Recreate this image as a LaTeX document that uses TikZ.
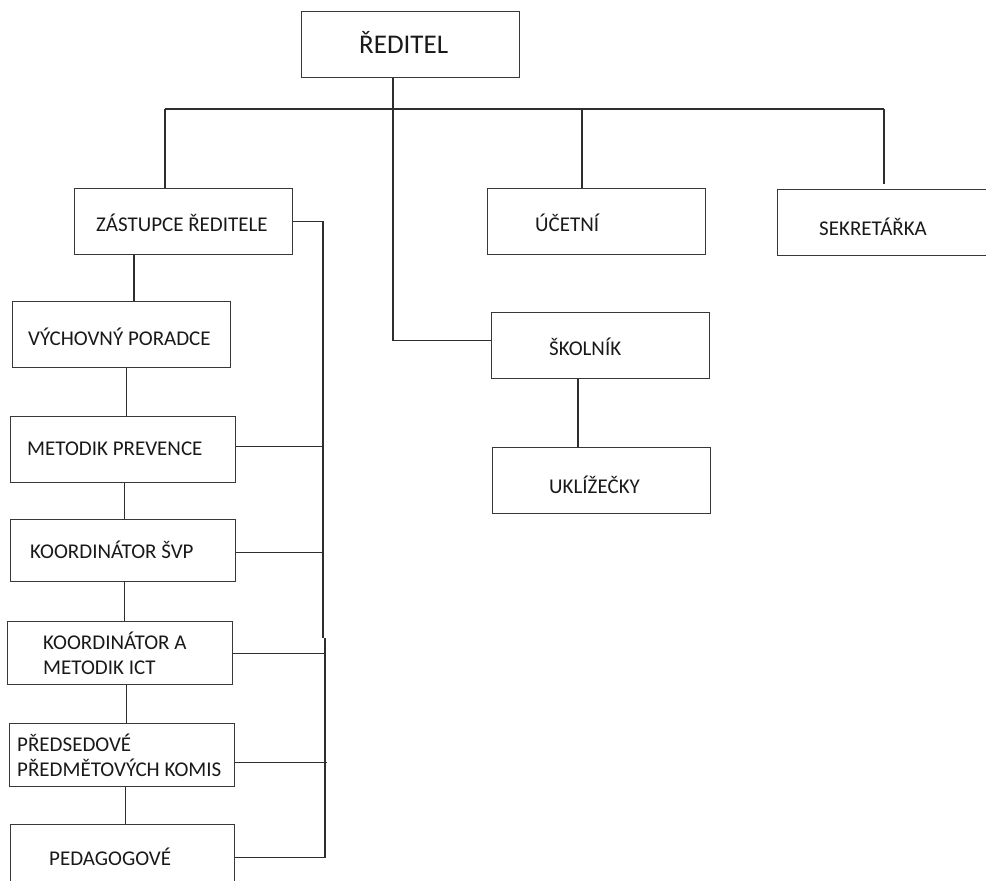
\documentclass[tikz,border=0pt]{standalone}
\usepackage{fontspec}
\setmainfont{Carlito}
\begin{document}
\begin{tikzpicture}[x=1pt,y=-1pt,
  box/.style={draw=black!78,line width=1.1pt,rectangle,inner sep=0pt,anchor=north west},
  conn/.style={draw=black!82,line width=1.1pt},
  lbl/.style={anchor=base west,inner sep=0pt,text=black!90,font=\fontsize{21}{25}\selectfont},
  big/.style={lbl,font=\fontsize{27}{31}\selectfont}]
\useasboundingbox (0,0) rectangle (986,881);
\clip (0,0) rectangle (986,881);
% boxes
\node[box,minimum width=218pt,minimum height=66pt] (red) at (301,11) {};
\node[box,minimum width=218pt,minimum height=66pt] (zast) at (74,188) {};
\node[box,minimum width=218pt,minimum height=66pt] (ucet) at (487,188) {};
\node[box,minimum width=215pt,minimum height=66pt] (sekr) at (777,189) {};
\node[box,minimum width=218pt,minimum height=66pt] (skol) at (491,312) {};
\node[box,minimum width=218pt,minimum height=66pt] (ukl) at (492,447) {};
\node[box,minimum width=218pt,minimum height=66pt] (vych) at (12,301) {};
\node[box,minimum width=225pt,minimum height=66pt] (meto) at (10,416) {};
\node[box,minimum width=225pt,minimum height=62pt] (svp) at (10,519) {};
\node[box,minimum width=225pt,minimum height=63pt] (ict) at (7,621) {};
\node[box,minimum width=225pt,minimum height=63pt] (pred) at (9,723) {};
\node[box,minimum width=224pt,minimum height=66pt] (peda) at (10,824) {};
% labels
\node[big] (t-red) at (359,53) {ŘEDITEL};
\node[lbl] (t-zast) at (96,231) {ZÁSTUPCE ŘEDITELE};
\node[lbl] (t-ucet) at (535,231) {ÚČETNÍ};
\node[lbl] (t-sekr) at (819,235) {SEKRETÁŘKA};
\node[lbl] (t-skol) at (549,355) {ŠKOLNÍK};
\node[lbl] (t-ukl) at (549,493) {UKLÍŽEČKY};
\node[lbl] (t-vych) at (28,345) {VÝCHOVNÝ PORADCE};
\node[lbl] (t-meto) at (27,455) {METODIK PREVENCE};
\node[lbl] (t-svp) at (30,558) {KOORDINÁTOR ŠVP};
\node[lbl] (t-ict1) at (43,649) {KOORDINÁTOR A};
\node[lbl] (t-ict2) at (43,674) {METODIK ICT};
\node[lbl] (t-pred1) at (17,751) {PŘEDSEDOVÉ};
\node[lbl] (t-pred2) at (17,776) {PŘEDMĚTOVÝCH KOMIS};
\node[lbl] (t-peda) at (49,865) {PEDAGOGOVÉ};
% bus coordinates
\coordinate (bL) at (165,109);
\coordinate (bR) at (884,109);
\coordinate (bU) at (582,109);
\coordinate (bS) at (393,109);
\coordinate (zv) at (134,280);
\coordinate (rb1) at (323,638);
\coordinate (rb2) at (325,638);
% top connectors
\draw[conn] (bL) -- (bR);
\draw[conn] (bL) -- (bL |- zast.north);
\draw[conn] (bU) -- (bU |- ucet.north);
\draw[conn,shorten >=5pt] (bR) -- (bR |- sekr.north);
\draw[conn] (red.south -| bS) |- ([yshift=5pt]skol.west);
\draw[conn] (skol.south -| 578,0) -- (ukl.north -| 578,0);
% left column
\draw[conn] (zast.south -| zv) -- (vych.north -| zv);
\draw[conn] ([xshift=3pt]meto.north) -- ([xshift=3pt]meto.north |- vych.south);
\draw[conn] ([xshift=1pt]svp.north) -- ([xshift=1pt]svp.north |- meto.south);
\draw[conn] ([xshift=4pt]ict.north) -- ([xshift=4pt]ict.north |- svp.south);
\draw[conn] ([xshift=4pt]pred.north) -- ([xshift=4pt]pred.north |- ict.south);
\draw[conn] ([xshift=3pt]peda.north) -- ([xshift=3pt]peda.north |- pred.south);
% right bus of deputy
\draw[conn] (zast.east) -| (rb1);
\draw[conn] (rb2) |- (peda.east);
\draw[conn] ([yshift=3pt]meto.east) -- ([yshift=3pt]meto.east -| rb1);
\draw[conn] ([yshift=-2pt]svp.east) -- ([yshift=-2pt]svp.east -| rb1);
\draw[conn] (ict.east) -- (ict.east -| rb2);
\draw[conn] ([yshift=-7pt]pred.east) -- ([yshift=-7pt,xshift=2pt]pred.east -| rb2);
\end{tikzpicture}
\end{document}
